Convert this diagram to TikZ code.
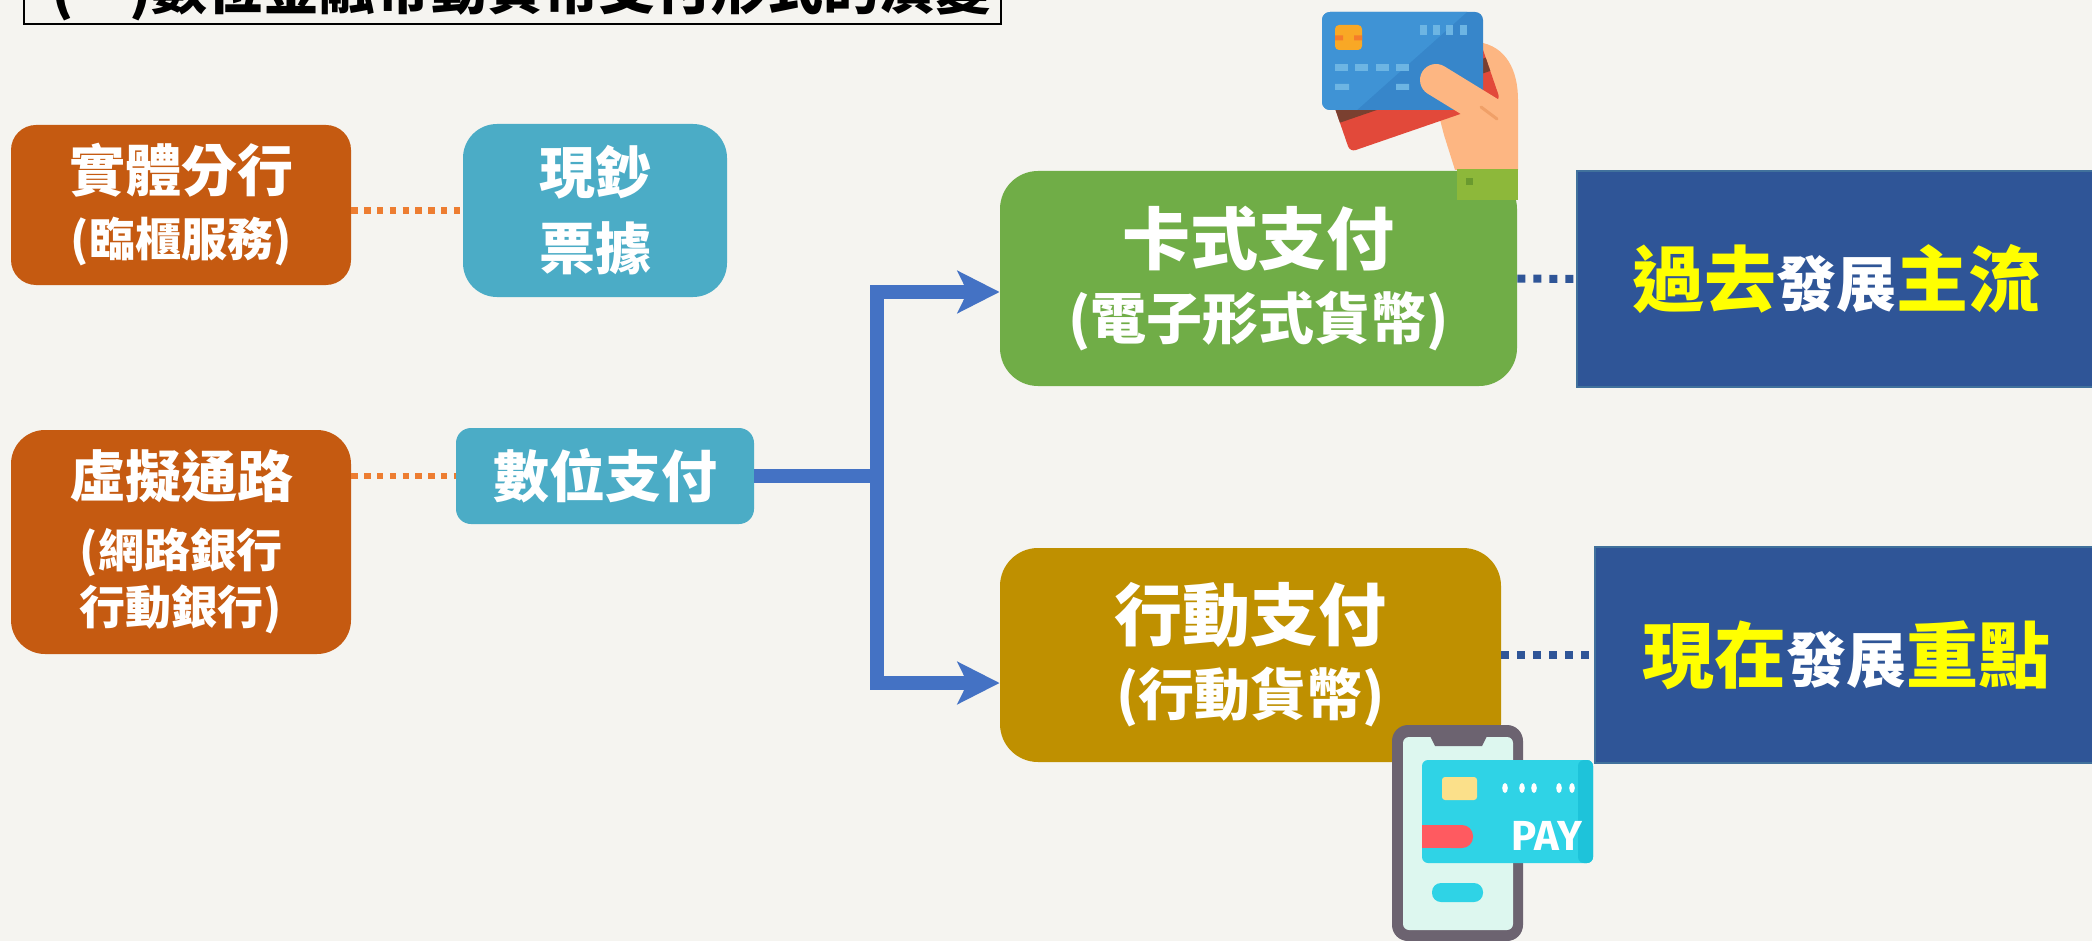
\documentclass[tikz,border=0pt]{standalone}
\usepackage{fontspec}
\newfontfamily\cjk{Noto Sans CJK TC}
\newfontfamily\payfont{Fira Sans}
\usetikzlibrary{arrows.meta}

\definecolor{paper}{HTML}{F5F4F0}
\definecolor{rustbox}{HTML}{C55A11}
\definecolor{tealbox}{HTML}{4BACC6}
\definecolor{leafbox}{HTML}{70AD47}
\definecolor{goldbox}{HTML}{BF9000}
\definecolor{navybox}{HTML}{2F5597}
\definecolor{navyedge}{HTML}{41719C}
\definecolor{flowblue}{HTML}{4472C4}
\definecolor{dotorange}{HTML}{ED7D31}
\definecolor{hiyellow}{HTML}{FFFF00}
% icon colours
\definecolor{skin}{HTML}{FDB682}
\definecolor{skindark}{HTML}{F0A068}
\definecolor{cardred}{HTML}{E2493A}
\definecolor{cardbrown}{HTML}{7A4030}
\definecolor{cardblue}{HTML}{3786CA}
\definecolor{cardlite}{HTML}{3F93D5}
\definecolor{cardmark}{HTML}{6DB5E3}
\definecolor{chip}{HTML}{F9A825}
\definecolor{chipbar}{HTML}{F57C2B}
\definecolor{sleeve}{HTML}{8DB83A}
\definecolor{sleevedark}{HTML}{6A9A2E}
\definecolor{phonegray}{HTML}{6C6370}
\definecolor{screen}{HTML}{DDF7EF}
\definecolor{paycyan}{HTML}{2FD3E6}
\definecolor{paydark}{HTML}{1EC3DA}
\definecolor{payyel}{HTML}{FBE08A}
\definecolor{payred}{HTML}{FF5A60}

\newcommand\setsz[2]{\fontsize{#1}{#2}\selectfont}

\tikzset{
  box/.style = {text = white, align = center, inner sep = 0},
  dotline/.style = {draw = dotorange, line width = 3.3pt, dash pattern = on 3.2pt off 3.2pt},
  bluedots/.style = {draw = navybox, line width = 4pt, dash pattern = on 4pt off 4pt},
  flow/.style = {draw = flowblue, line width = 7pt, line join = miter},
  tip/.style = {-{Stealth[length = 21pt, width = 21pt, inset = 5pt]}},
}

\begin{document}
\begin{tikzpicture}[x=0.5pt, y=-0.5pt]
  \useasboundingbox (0, 0) rectangle (2092, 941);
  \clip (0, 0) rectangle (2092, 941);
  \fill [paper] (0, 0) rectangle (2092, 941);

  % heading
  \node (title) [anchor = base west, font = \cjk\bfseries\setsz{28}{28}] at (44, 10) {(一)數位金融帶動貨幣支付形式的演變};
  \draw [line width = 1.2pt] (24, -60) rectangle (1001, 24);

  % channels and payment forms
  \node (branch) [box, fill = rustbox, rounded corners = 12.5pt, minimum width = 170pt, minimum height = 80pt,
    font = \cjk\bfseries\setsz{28}{32.5}] at (181, 205) {實體分行\\{\setsz{23}{23}(臨櫃服務)}};
  \node (cash) [box, fill = tealbox, rounded corners = 17pt, minimum width = 132pt, minimum height = 86.5pt,
    font = \cjk\bfseries\setsz{28}{38}] at (595, 210.5) {現鈔\\票據};
  \node (online) [box, fill = rustbox, rounded corners = 17pt, minimum width = 170pt, minimum height = 112pt,
    font = \cjk\bfseries\setsz{28}{28.5}] at (181, 542) {虛擬通路\\[6.5pt]{\setsz{23}{23}(網路銀行}\\{\setsz{23}{23}行動銀行)}};
  \node (digital) [box, fill = tealbox, rounded corners = 7.5pt, minimum width = 149pt, minimum height = 48pt,
    font = \cjk\bfseries\setsz{28}{28}] at (605, 476) {數位支付};
  \node (card) [box, fill = leafbox, rounded corners = 19pt, minimum width = 258.5pt, minimum height = 107.5pt,
    font = \cjk\bfseries\setsz{34}{37.5}] at (1258.5, 278.5) {卡式支付\\{\setsz{28}{28}(電子形式貨幣)}};
  \node (mobile) [box, fill = goldbox, rounded corners = 19pt, minimum width = 250.5pt, minimum height = 107pt,
    font = \cjk\bfseries\setsz{34}{37.5}] at (1250.5, 655) {行動支付\\{\setsz{28}{28}(行動貨幣)}};
  \node (past) [box, fill = navybox, draw = navyedge, line width = 1.2pt, minimum width = 259pt, minimum height = 108pt,
    font = \cjk\bfseries] at (1836, 279)
    {{\color{hiyellow}\setsz{36}{36}過去}{\setsz{30}{30}發展}{\color{hiyellow}\setsz{36}{36}主流}};
  \node (now) [box, fill = navybox, draw = navyedge, line width = 1.2pt, minimum width = 251pt, minimum height = 108pt,
    font = \cjk\bfseries] at (1846, 655)
    {{\color{hiyellow}\setsz{36}{36}現在}{\setsz{30}{30}發展}{\color{hiyellow}\setsz{36}{36}重點}};

  \draw [dotline] (branch.east |- cash.west) -- (cash.west);
  \draw [dotline] (online.east |- digital.west) -- (digital.west);
  \draw [bluedots] (card.east) -- (past.west);
  \draw [bluedots] (mobile.east) -- (now.west);

  \coordinate (fork) at (877, 476);
  \draw [flow] (digital.east) -- (fork);
  \draw [flow, tip] (fork) |- ([yshift = -6.75pt]card.west);
  \draw [flow, tip] (fork) |- ([yshift = -14pt]mobile.west);

  % hand holding cards
  \fill [skin] (1478, 42) .. controls (1506, 46) and (1518, 70) .. (1518, 100) -- (1518, 170) -- (1455, 170) -- (1444, 135) -- (1438, 112) -- cycle;
  \begin{scope}[shift = {(1350, 152)}, rotate = 19]
    \fill [cardred, rounded corners = 3pt] (0, 0) rectangle (159, -88);
    \fill [cardbrown] (0, -31) rectangle (159, -45);
  \end{scope}
  \fill [cardblue, rounded corners = 4pt] (1322, 12) rectangle (1483, 110);
  \begin{scope}
    \clip [rounded corners = 4pt] (1322, 12) rectangle (1483, 110);
    \fill [cardlite] (1322, 12) -- (1467, 12) -- (1357, 110) -- (1322, 110) -- cycle;
  \end{scope}
  \fill [chip, rounded corners = 2pt] (1335, 25) rectangle (1362, 50);
  \fill [chipbar] (1335, 35.5) rectangle (1343, 40.5) (1354, 35.5) rectangle (1362, 40.5);
  \foreach \x in {1420, 1433, 1446, 1460}
    \fill [cardmark] (\x, 25) rectangle ++(7, 10);
  \foreach \x in {1335, 1355, 1376, 1396}
    \fill [cardmark] (\x, 64) rectangle ++(13, 7);
  \fill [cardmark] (1335, 84) rectangle ++(14, 6) (1396, 84) rectangle ++(13, 6);
  \draw [skin, line width = 16pt, line cap = round] (1436, 80) -- (1498, 118);
  \draw [skindark, line width = 1.5pt, line cap = round] (1481, 107) -- (1497, 119);
  \fill [sleeve] (1457, 169) rectangle (1518, 200);
  \fill [sleevedark] (1466, 178) rectangle (1473, 185);

  % phone with pay card
  \fill [phonegray, rounded corners = 8pt] (1392, 725) rectangle (1523, 941);
  \fill [screen, rounded corners = 3pt] (1403, 737) rectangle (1513, 930);
  \fill [phonegray] (1430, 736) -- (1487, 736) -- (1482, 746) -- (1435, 746) -- cycle;
  \fill [paycyan, rounded corners = 3pt] (1422, 760) rectangle (1593, 863);
  \fill [paydark, rounded corners = 3pt] (1578, 760) rectangle (1593, 863);
  \fill [payyel, rounded corners = 1.5pt] (1442, 777) rectangle (1477, 800);
  \foreach \x in {1505, 1522, 1534, 1559, 1572}
    \fill [white] (\x, 788) ellipse [x radius = 1.4pt, y radius = 2.5pt];
  \fill [payred] (1422, 825) rectangle (1462, 848);
  \fill [payred, rounded corners = 5.5pt] (1440, 825) rectangle (1473, 848);
  \node (pay) [anchor = base, text = white, inner sep = 0, font = \payfont\bfseries\setsz{21}{21}] at (1547, 850) {PAY};
  \fill [paycyan, rounded corners = 4.5pt] (1432, 883) rectangle (1483, 902);
\end{tikzpicture}
\end{document}
